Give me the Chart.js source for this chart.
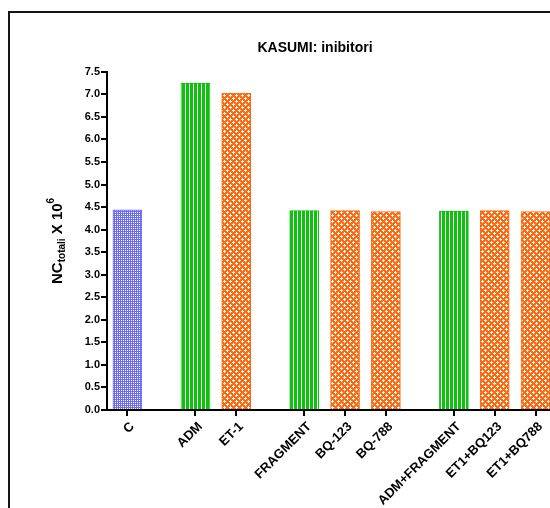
<!DOCTYPE html>
<html>
<head>
<meta charset="utf-8">
<script src="https://cdn.jsdelivr.net/npm/chart.js@4"></script>
<style>
  html, body { margin: 0; padding: 0; background: #fff; overflow: hidden; width: 550px; height: 508px; }
  #frame { position: absolute; left: 8px; top: 11px; width: 700px; height: 600px;
           border-left: 2px solid #151515; border-top: 2px solid #151515; }
  #chart { position: absolute; left: 0; top: 0; }
</style>
</head>
<body>
<div id="frame"><canvas id="chart" width="610" height="495"></canvas></div>
<script>
// Treatments, grouped as they are spaced along the axis
const categories = ['C', 'ADM', 'ET-1', 'FRAGMENT', 'BQ-123', 'BQ-788', 'ADM+FRAGMENT', 'ET1+BQ123', 'ET1+BQ788'];
const groupOf    = [0, 1, 1, 2, 2, 2, 3, 3, 3];
// Total cell count (x 10^6)
const values     = [4.44, 7.25, 7.03, 4.42, 4.42, 4.40, 4.41, 4.42, 4.40];
// Fill style for each bar
const fillKind   = ['check', 'stripe', 'cross', 'stripe', 'cross', 'cross', 'stripe', 'cross', 'cross'];
const yTickStep  = 0.5;
const yMax       = 7.5;

const GROUP_GAP = 2 / 3;   // extra space between groups, in category units
const positions = categories.map((c, i) => i + groupOf[i] * GROUP_GAP);

const COLORS = { check: '#6c6cf0', stripe: '#0cc20c', cross: '#ff6a10' };

function makePattern(kind) {
  const c = document.createElement('canvas');
  const g = c.getContext('2d');
  if (kind === 'check') {
    c.width = 2; c.height = 2;
    g.fillStyle = COLORS.check; g.fillRect(0, 0, 2, 2);
    g.fillStyle = '#ffffff'; g.fillRect(1, 1, 1, 1);
  } else if (kind === 'stripe') {
    c.width = 4; c.height = 1;
    g.fillStyle = COLORS.stripe; g.fillRect(0, 0, 3, 1);
    g.fillStyle = '#ffffff'; g.fillRect(3, 0, 1, 1);
  } else {
    c.width = 6; c.height = 6;
    g.fillStyle = COLORS.cross; g.fillRect(0, 0, 6, 6);
    g.fillStyle = '#ffffff';
    const plus = (x, y) => {
      [[0,0],[1,0],[-1,0],[0,1],[0,-1]].forEach(([dx, dy]) => {
        g.fillRect((x + dx + 6) % 6, (y + dy + 6) % 6, 1, 1);
      });
    };
    plus(1, 1);
    plus(4, 4);
  }
  return g.createPattern(c, 'repeat');
}

const FONT = "'Liberation Sans', Arial, Helvetica, sans-serif";

// Rotated y-axis title with subscript and superscript parts
const yTitlePlugin = {
  id: 'yTitle',
  afterDraw(chart) {
    const { ctx, chartArea } = chart;
    const parts = [
      { t: 'NC', size: 15, dy: 0 },
      { t: 'totali', size: 10, dy: 3 },
      { t: ' X 10', size: 15, dy: 0 },
      { t: '6', size: 10, dy: -8 }
    ];
    ctx.save();
    let total = 0;
    parts.forEach(p => { ctx.font = `bold ${p.size}px ${FONT}`; p.w = ctx.measureText(p.t).width; total += p.w; });
    const cx = 52, cy = (chartArea.top + chartArea.bottom) / 2;
    ctx.translate(cx, cy);
    ctx.rotate(-Math.PI / 2);
    ctx.fillStyle = '#000';
    ctx.textBaseline = 'alphabetic';
    ctx.textAlign = 'left';
    let x = -total / 2;
    parts.forEach(p => {
      ctx.font = `bold ${p.size}px ${FONT}`;
      ctx.fillText(p.t, x, p.dy);
      x += p.w;
    });
    ctx.restore();
  }
};

new Chart(document.getElementById('chart'), {
  type: 'bar',
  data: {
    datasets: [{
      data: categories.map((c, i) => ({ x: positions[i], y: values[i] })),
      backgroundColor: fillKind.map(makePattern),
      borderColor: fillKind.map(k => COLORS[k]),
      borderWidth: 1,
      borderSkipped: 'bottom',
      barThickness: 29
    }]
  },
  options: {
    responsive: false,
    animation: false,
    layout: { padding: 0 },
    plugins: {
      legend: { display: false },
      tooltip: { enabled: false },
      title: {
        display: true,
        text: 'KASUMI: inibitori',
        color: '#000',
        font: { family: FONT, size: 14, weight: 'bold' },
        padding: { top: 27, bottom: 15 }
      }
    },
    scales: {
      x: {
        type: 'linear',
        offset: false,
        min: -0.5,
        max: 12.07,
        afterBuildTicks: s => { s.ticks = positions.map(v => ({ value: v })); },
        afterFit: s => { s.height = 98; },
        ticks: {
          autoSkip: false,
          minRotation: 45,
          maxRotation: 45,
          padding: 3,
          labelOffset: 5,
          color: '#000',
          font: { family: FONT, size: 13, weight: 'bold' },
          callback: (v) => categories[positions.indexOf(v)]
        },
        grid: { offset: false, drawOnChartArea: false, drawTicks: true, tickLength: 6, color: '#000', lineWidth: 2 },
        border: { color: '#000', width: 2 }
      },
      y: {
        min: 0,
        max: yMax,
        afterFit: s => { s.width = 97; },
        ticks: {
          stepSize: yTickStep,
          padding: 1,
          color: '#000',
          font: { family: FONT, size: 11, weight: 'bold' },
          callback: v => v.toFixed(1)
        },
        grid: { drawOnChartArea: false, drawTicks: true, tickLength: 6, color: '#000', lineWidth: 2 },
        border: { color: '#000', width: 2 }
      }
    }
  },
  plugins: [yTitlePlugin]
});
</script>
</body>
</html>
